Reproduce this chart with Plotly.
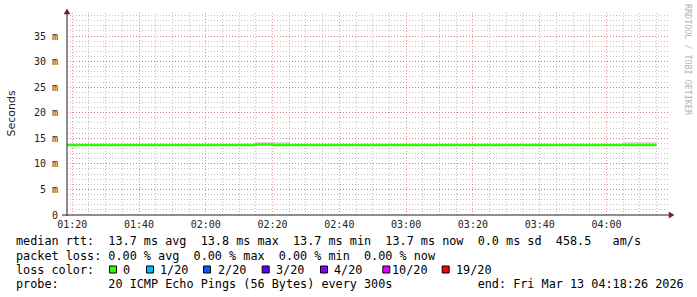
import plotly.graph_objects as go
import pandas as pd

# ---------------- data ----------------
times = list(pd.date_range("2026-03-13 01:15:00", "2026-03-13 04:15:00", freq="300s"))
median_ms = [13.7, 13.7, 13.7, 13.7, 13.7, 13.7, 13.7, 13.7, 13.7, 13.7,
             13.7, 13.7, 13.7, 13.8, 13.7, 13.7, 13.7, 13.7, 13.7, 13.7,
             13.7, 13.7, 13.7, 13.7, 13.7, 13.7, 13.7, 13.7, 13.7, 13.7,
             13.7, 13.7, 13.7, 13.7, 13.7, 13.7, 13.7]
smoke_lo = [13.6, 13.6, 13.6, 13.6, 13.6, 13.6, 13.6, 13.6, 13.6, 13.6,
            13.6, 13.6, 13.6, 13.6, 13.6, 13.6, 13.6, 13.6, 13.6, 13.6,
            13.6, 13.6, 13.6, 13.6, 13.6, 13.6, 13.6, 13.6, 13.6, 13.6,
            13.6, 13.6, 13.6, 13.6, 13.6, 13.6, 13.6]
smoke_hi = [13.9, 13.9, 13.9, 13.9, 13.9, 13.9, 13.9, 13.9, 13.9, 13.9,
            13.9, 13.9, 13.9, 14.25, 14.25, 13.9, 13.9, 13.9, 13.9, 13.9,
            13.9, 13.9, 13.9, 13.9, 13.9, 13.9, 13.9, 13.9, 13.9, 13.9,
            13.9, 13.9, 13.9, 13.9, 13.9, 14.25, 14.25]

y_tickvals = [0, 5, 10, 15, 20, 25, 30, 35]
y_ticktext = ["0", "5 m", "10 m", "15 m", "20 m", "25 m", "30 m", "35 m"]

x_start = "2026-03-13 01:18:26"
x_end = "2026-03-13 04:18:26"

y_title = "Seconds"
legend_row1 = "median rtt:  13.7 ms avg  13.8 ms max  13.7 ms min  13.7 ms now  0.0 ms sd  458.5   am/s"
legend_row2 = "packet loss: 0.00 % avg  0.00 % max  0.00 % min  0.00 % now"
legend_row3_label = "loss color:"
loss_labels = ["0", "1/20", "2/20", "3/20", "4/20", "10/20", "19/20"]
loss_colors = ["#26ff00", "#00b8ff", "#0059ff", "#5e00ff", "#7e00ff", "#dd00ff", "#ff0000"]
legend_row4 = "probe:       20 ICMP Echo Pings (56 Bytes) every 300s            end: Fri Mar 13 04:18:26 2026"
watermark = "RRDTOOL / TOBI OETIKER"

# ---------------- layout geometry (pixels) ----------------
W, H = 697, 297
PL, PR, PT, PB = 67, 668, 13, 215


def px(x):
    return (x - PL) / (PR - PL)


def py(y):
    return (PB - y) / (PB - PT)


MONO = "DejaVu Sans Mono"
GRID = "rgba(143,143,143,0.55)"
MGRID = "rgba(222,79,79,0.6)"
DASH = "1px,2px"
ARROW = "#801f1f"
AXIS = "#1f1f1f"

fig = go.Figure()
fig.add_trace(go.Scatter(x=times, y=smoke_lo, mode="lines", line=dict(width=0, shape="vh"),
                         hoverinfo="skip", showlegend=False))
fig.add_trace(go.Scatter(x=times, y=smoke_hi, mode="lines", line=dict(width=0, shape="vh"),
                         fill="tonexty", fillcolor="#d4d4d4", hoverinfo="skip", showlegend=False))
fig.add_trace(go.Scatter(x=times, y=median_ms, mode="lines",
                         line=dict(color=loss_colors[0], width=2.4, shape="vh"), showlegend=False))

fig.update_layout(
    width=W, height=H, autosize=False,
    margin=dict(l=PL, r=W - PR, t=PT, b=H - PB, pad=0),
    paper_bgcolor="white", plot_bgcolor="white",
    showlegend=False,
    xaxis=dict(
        type="date", range=[x_start, x_end],
        tick0="2026-03-13 01:20:00", dtick=20 * 60 * 1000, tickformat="%H:%M",
        showgrid=True, gridcolor=MGRID, griddash=DASH, gridwidth=1,
        minor=dict(tick0="2026-03-13 01:20:00", dtick=5 * 60 * 1000, showgrid=True,
                   gridcolor=GRID, griddash=DASH, gridwidth=1),
        zeroline=False, showline=False, ticks="",
        tickfont=dict(family=MONO, size=10, color="#222"),
        ticklabelstandoff=2,
    ),
    yaxis=dict(
        range=[0, 39.5], tickvals=y_tickvals, ticktext=y_ticktext,
        showgrid=True, gridcolor=MGRID, griddash=DASH, gridwidth=1,
        minor=dict(dtick=1, tick0=0, showgrid=True, gridcolor=GRID, griddash=DASH, gridwidth=1),
        zeroline=False, showline=False, ticks="",
        tickfont=dict(family=MONO, size=10, color="#222"),
        ticklabelstandoff=8,
    ),
)

shapes = [
    dict(type="line", xref="paper", yref="paper", x0=px(67), x1=px(67), y0=py(216), y1=py(11),
         line=dict(color=AXIS, width=1)),
    dict(type="line", xref="paper", yref="paper", x0=px(62), x1=px(670), y0=py(215), y1=py(215),
         line=dict(color=AXIS, width=1)),
    dict(type="path", xref="paper", yref="paper",
         path=f"M {px(64)},{py(14)} L {px(70)},{py(14)} L {px(67)},{py(9)} Z",
         fillcolor=ARROW, line=dict(color=ARROW, width=0.5)),
    dict(type="path", xref="paper", yref="paper",
         path=f"M {px(669)},{py(212)} L {px(669)},{py(218)} L {px(674)},{py(215)} Z",
         fillcolor=ARROW, line=dict(color=ARROW, width=0.5)),
]

sq_left = [109, 146, 203, 261.7, 320, 382.3, 441.7]
lbl_left = [122.5, 159.5, 217.5, 275.7, 334, 391.7, 455.5]
for c, x0 in zip(loss_colors, sq_left):
    shapes.append(dict(type="rect", xref="paper", yref="paper",
                       x0=px(x0 + 0.5), x1=px(x0 + 7.5), y0=py(273), y1=py(266),
                       fillcolor=c, line=dict(color="black", width=1)))
fig.update_layout(shapes=shapes)

NB = "\u00a0"


def ann(text, x, y, size=11.8, family=MONO, color="black", angle=0, xanchor="left"):
    fig.add_annotation(text=text.replace(" ", NB), xref="paper", yref="paper",
                       x=px(x), y=py(y), xanchor=xanchor, yanchor="middle",
                       showarrow=False, borderpad=0, borderwidth=0, textangle=angle,
                       font=dict(family=family, size=size, color=color))


ann(y_title, 10.5, 114, size=11, family="DejaVu Sans", color="#222", angle=-90, xanchor="center")
ann(legend_row1, 16, 241.5)
ann(legend_row2, 16, 255.5)
ann(legend_row3_label, 16, 269.5)
for t, x0 in zip(loss_labels, lbl_left):
    ann(t, x0, 269.5)
ann(legend_row4, 16, 283.5)
ann(watermark, 688, 60, size=8.4, color="#b4b4b4", angle=90, xanchor="center")

fig.write_html("out.html")
